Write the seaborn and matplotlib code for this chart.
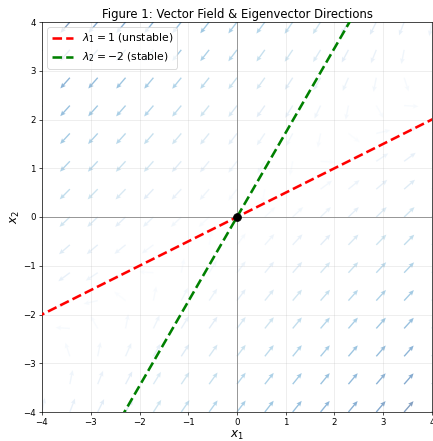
import numpy as np
import pandas as pd
import matplotlib
matplotlib.use("Agg")
import matplotlib.pyplot as plt
import seaborn as sns

# ---- data ----
eigenvalues = [1.0, -2.0]
eigvec_unstable = [2.0, 1.0]      # red line, slope 1/2
eigvec_stable = [1.0, 1.732]      # green line, slope ~1.73
line_labels = [r"$\lambda_1 = 1$ (unstable)", r"$\lambda_2 = -2$ (stable)"]
line_colors = ["red", "green"]
grid_values = list(np.linspace(-4, 4, 15))
tick_values = [-4, -3, -2, -1, 0, 1, 2, 3, 4]
title_text = "Figure 1: Vector Field & Eigenvector Directions"

# system matrix built from the eigen-decomposition
P = np.array([eigvec_unstable, eigvec_stable]).T
D = np.diag(eigenvalues)
A = P @ D @ np.linalg.inv(P)

fig = plt.figure(figsize=(433 / 62, 441 / 62), dpi=62)
ax = fig.add_axes([42 / 433, 1 - 412 / 441, 390 / 433, 390 / 441])

X, Y = np.meshgrid(grid_values, grid_values)
U = A[0, 0] * X + A[0, 1] * Y
V = A[1, 0] * X + A[1, 1] * Y
M = np.hypot(U, V)
M[M == 0] = 1
ax.quiver(X, Y, U / M, V / M, M, cmap="Blues", alpha=0.5,
          angles="xy", scale_units="xy", scale=3.4,
          width=0.0035, headwidth=3.5, headlength=4, headaxislength=3.5, zorder=1)

t = np.array([-10.0, 10.0])
rows = []
for vec, lab in zip([eigvec_unstable, eigvec_stable], line_labels):
    v = np.array(vec) / np.linalg.norm(vec)
    for tt in t:
        rows.append({"x": tt * v[0], "y": tt * v[1], "label": lab})
df = pd.DataFrame(rows)
sns.lineplot(data=df, x="x", y="y", hue="label", palette=dict(zip(line_labels, line_colors)),
             ax=ax, linewidth=3, linestyle="--", sort=False, zorder=3)
for l in ax.get_lines():
    l.set_dashes((3.7, 1.6))

ax.axhline(0, color="gray", linewidth=0.9, zorder=2)
ax.axvline(0, color="gray", linewidth=0.9, zorder=2)
ax.plot([0], [0], "o", color="black", markersize=9, zorder=6)

ax.set_xlim(-4, 4)
ax.set_ylim(-4, 4)
ax.set_xticks(tick_values)
ax.set_yticks(tick_values)
ax.grid(True, alpha=0.3)
ax.set_xlabel(r"$x_1$", fontsize=14, labelpad=2)
ax.set_ylabel(r"$x_2$", fontsize=14, labelpad=2)
ax.set_title(title_text, fontsize=13.5, pad=5)
ax.legend(loc="upper left", fontsize=12.5, title=None)

fig.savefig("out.png", dpi=62)
